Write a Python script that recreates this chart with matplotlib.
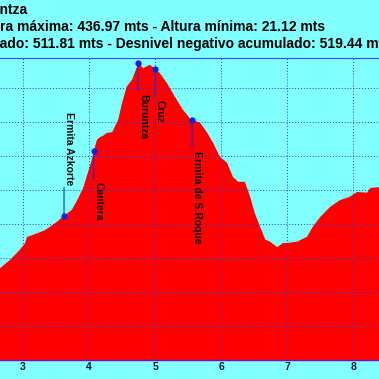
import numpy as np
import matplotlib.pyplot as plt

# perfil (km, altura en m)
km = [2.55, 2.65, 2.80, 2.95, 3.03, 3.06, 3.15, 3.26, 3.33, 3.41,
      3.51, 3.62, 3.74, 3.82, 3.91, 3.98, 4.04, 4.07, 4.12, 4.17,
      4.20, 4.27, 4.35, 4.39, 4.44, 4.50, 4.57, 4.65, 4.73, 4.74,
      4.82, 4.92, 5.00, 5.07, 5.18, 5.30, 5.42, 5.53, 5.56, 5.68,
      5.79, 5.88, 5.98, 6.09, 6.18, 6.26, 6.36, 6.44, 6.51, 6.59,
      6.67, 6.74, 6.85, 6.94, 7.00, 7.15, 7.30, 7.39, 7.50, 7.65,
      7.80, 7.95, 8.06, 8.21, 8.26, 8.38, 8.50]
alt = [122, 135, 147, 162, 172, 181, 184, 188, 191, 196,
       203, 212, 221, 235, 253, 275, 294, 307, 324, 328,
       329, 334, 335, 343, 353, 378, 402, 412, 432, 437,
       429, 434, 428, 422, 407, 387, 368, 355, 353, 349,
       334, 319, 299, 290, 269, 262, 262, 240, 216, 196,
       177, 174, 166, 172, 172, 174, 181, 196, 210, 225,
       235, 240, 247, 246, 253, 254, 256]

# puntos de paso
wp_names = ["Ermita Azkorte", "Cantera", "Buruntza", "Cruz", "Ermita de S.Roque"]
wp_km = [3.62, 4.07, 4.74, 5.00, 5.56]
wp_alt = [212, 307, 437, 428, 353]
wp_up = [True, False, False, False, False]

titles = ["Buruntza",
          "Altura máxima: 436.97 mts - Altura mínima: 21.12 mts",
          "Desnivel positivo acumulado: 511.81 mts - Desnivel negativo acumulado: 519.44 mts"]
title_prefix = ["Buru", "Altu", "Desnivel positivo acumul"]

xticks = [3, 4, 5, 6, 7, 8]

bg = '#82FFFF'
W = H = 379
fig = plt.figure(figsize=(3.79, 3.79), dpi=100, facecolor=bg)
ax = fig.add_axes([0, 19 / H, 1, 302 / H])
ax.set_facecolor(bg)

ax.fill_between(km, alt, 0, color='#FF0000', lw=0, zorder=1)
ax.set_xlim(2.65, 2.65 + W / 66)
ax.set_ylim(0, 444)

ax.set_xticks(xticks)
ax.set_xticklabels([str(t) for t in xticks], fontfamily='Liberation Sans',
                   fontweight='bold', fontsize=7.5, color='#0a1a30')
ax.set_yticks(np.arange(0, 444, 50))
ax.tick_params(axis='x', length=0, pad=1.5)
ax.tick_params(axis='y', left=False, labelleft=False)
ax.grid(True, color='#2a3ae0', ls=(0, (1.0, 2.0)), lw=0.7, zorder=2)
ax.set_axisbelow(False)

for s in ['left', 'right']:
    ax.spines[s].set_visible(False)
ax.spines['top'].set_color('#3050ff')
ax.spines['top'].set_linewidth(0.8)
ax.spines['bottom'].set_color('#7010b0')
ax.spines['bottom'].set_linewidth(1.0)

off = 31 * 72 / 100
for name, x, y, up in zip(wp_names, wp_km, wp_alt, wp_up):
    ax.annotate(name, xy=(x, y), xytext=(0, off if up else -off),
                textcoords='offset points', rotation=-90,
                ha='left', va='bottom' if up else 'top',
                fontfamily='Liberation Sans', fontweight='bold', fontsize=7.5,
                color='#101010', zorder=4,
                arrowprops=dict(arrowstyle='-', color='#1030e0', lw=0.8,
                                shrinkA=0, shrinkB=0,
                                relpos=(0, 0) if up else (0, 1)))
    ax.plot(x, y, 'o', color='#1020e0', ms=3.5, zorder=5)

r = fig.canvas.get_renderer()
for txt, pre, ypx in zip(titles, title_prefix, [10, 27, 44]):
    kw = dict(fontfamily='Liberation Sans', fontweight='bold', fontsize=10,
              color='black', va='center', ha='left')
    tp = fig.text(0, 0.5, pre, **kw)
    w = tp.get_window_extent(r).width
    tp.remove()
    fig.text(-w / W, 1 - ypx / H, txt, **kw)

fig.savefig('out.png', dpi=100, facecolor=bg)
